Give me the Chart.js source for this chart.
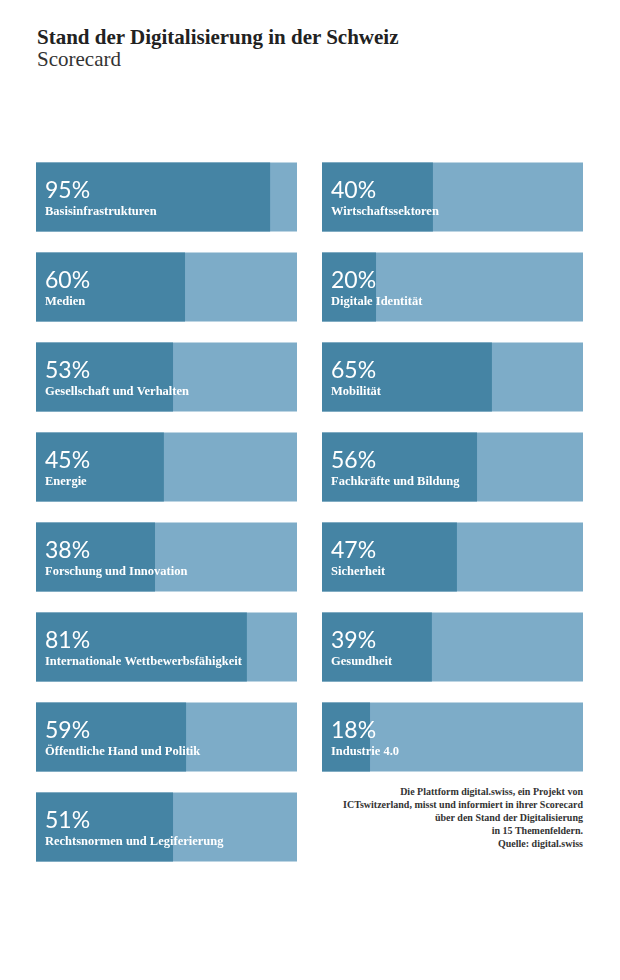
<!DOCTYPE html>
<html>
<head>
<meta charset="utf-8">
<script src="https://cdn.jsdelivr.net/npm/chart.js@4.4.0/dist/chart.umd.min.js"></script>
<style>
  html, body { margin: 0; padding: 0; background: #ffffff; }
  body { width: 620px; height: 980px; position: relative; overflow: hidden; }
  #title { position: absolute; left: 37px; top: 26px; font-family: "Liberation Serif", serif; font-weight: bold; font-size: 21px; color: #222; line-height: 22px; white-space: nowrap; }
  #subtitle { position: absolute; left: 37px; top: 48px; font-family: "Liberation Serif", serif; font-size: 21px; color: #333; line-height: 22px; }
  .col { position: absolute; }
  #leftWrap { left: 36px; top: 152px; width: 261px; height: 720px; }
  #rightWrap { left: 322px; top: 152px; width: 261px; height: 630px; }
  #note { position: absolute; right: 37px; top: 785px; text-align: right; font-family: "Liberation Serif", serif; font-weight: bold; font-size: 10px; line-height: 13px; color: #333; }
</style>
</head>
<body>
<div id="title">Stand der Digitalisierung in der Schweiz</div>
<div id="subtitle">Scorecard</div>
<div class="col" id="leftWrap"><canvas id="left"></canvas></div>
<div class="col" id="rightWrap"><canvas id="right"></canvas></div>
<div id="note">Die Plattform digital.swiss, ein Projekt von<br>ICTswitzerland, misst und informiert in ihrer Scorecard<br>über den Stand der Digitalisierung<br>in 15 Themenfeldern.<br>Quelle: digital.swiss</div>
<script>
// Left column
const leftCategories = ["Basisinfrastrukturen", "Medien", "Gesellschaft und Verhalten", "Energie", "Forschung und Innovation", "Internationale Wettbewerbsfähigkeit", "Öffentliche Hand und Politik", "Rechtsnormen und Legiferierung"];
const leftPercentLabels = ["95%", "60%", "53%", "45%", "38%", "81%", "59%", "51%"];
// bar fill as drawn in the picture (percent of the track)
const leftFill = [89.7, 57.1, 52.5, 49.0, 45.6, 80.8, 57.5, 52.5];
const leftTrack = [100, 100, 100, 100, 100, 100, 100, 100];

// Right column
const rightCategories = ["Wirtschaftssektoren", "Digitale Identität", "Mobilität", "Fachkräfte und Bildung", "Sicherheit", "Gesundheit", "Industrie 4.0"];
const rightPercentLabels = ["40%", "20%", "65%", "56%", "47%", "39%", "18%"];
const rightFill = [42.5, 20.7, 65.1, 59.4, 51.7, 42.1, 18.4];
const rightTrack = [100, 100, 100, 100, 100, 100, 100];

const darkColor = "#4584a4";
const lightColor = "#7dacc8";

const labelPlugin = {
  id: "barLabels",
  afterDatasetsDraw(chart) {
    const ctx = chart.ctx;
    const meta = chart.getDatasetMeta(0);
    const pct = chart.options.plugins.barLabels.pct;
    const cats = chart.data.labels;
    ctx.save();
    ctx.fillStyle = "#ffffff";
    ctx.textAlign = "left";
    ctx.textBaseline = "alphabetic";
    meta.data.forEach((bar, i) => {
      const x0 = bar.base + 9;
      ctx.font = "23px Lato, 'Open Sans', sans-serif";
      ctx.fillText(pct[i], x0, bar.y + 1);
      ctx.font = "bold 12.5px 'Liberation Serif', serif";
      ctx.fillText(cats[i], x0, bar.y + 18);
    });
    ctx.restore();
  }
};

function makeChart(id, cats, fill, track, pct) {
  return new Chart(document.getElementById(id), {
    type: "bar",
    data: {
      labels: cats,
      datasets: [
        { data: fill, backgroundColor: darkColor, borderWidth: 0, order: 0, grouped: false, barPercentage: 69 / 90, categoryPercentage: 1 },
        { data: track, backgroundColor: lightColor, borderWidth: 0, order: 1, grouped: false, barPercentage: 69 / 90, categoryPercentage: 1 }
      ]
    },
    options: {
      indexAxis: "y",
      responsive: true,
      maintainAspectRatio: false,
      animation: false,
      layout: { padding: 0 },
      scales: {
        x: { display: false, min: 0, max: 100 },
        y: { display: false }
      },
      plugins: {
        legend: { display: false },
        tooltip: { enabled: false },
        barLabels: { pct: pct }
      }
    },
    plugins: [labelPlugin]
  });
}

makeChart("left", leftCategories, leftFill, leftTrack, leftPercentLabels);
makeChart("right", rightCategories, rightFill, rightTrack, rightPercentLabels);
</script>
</body>
</html>
